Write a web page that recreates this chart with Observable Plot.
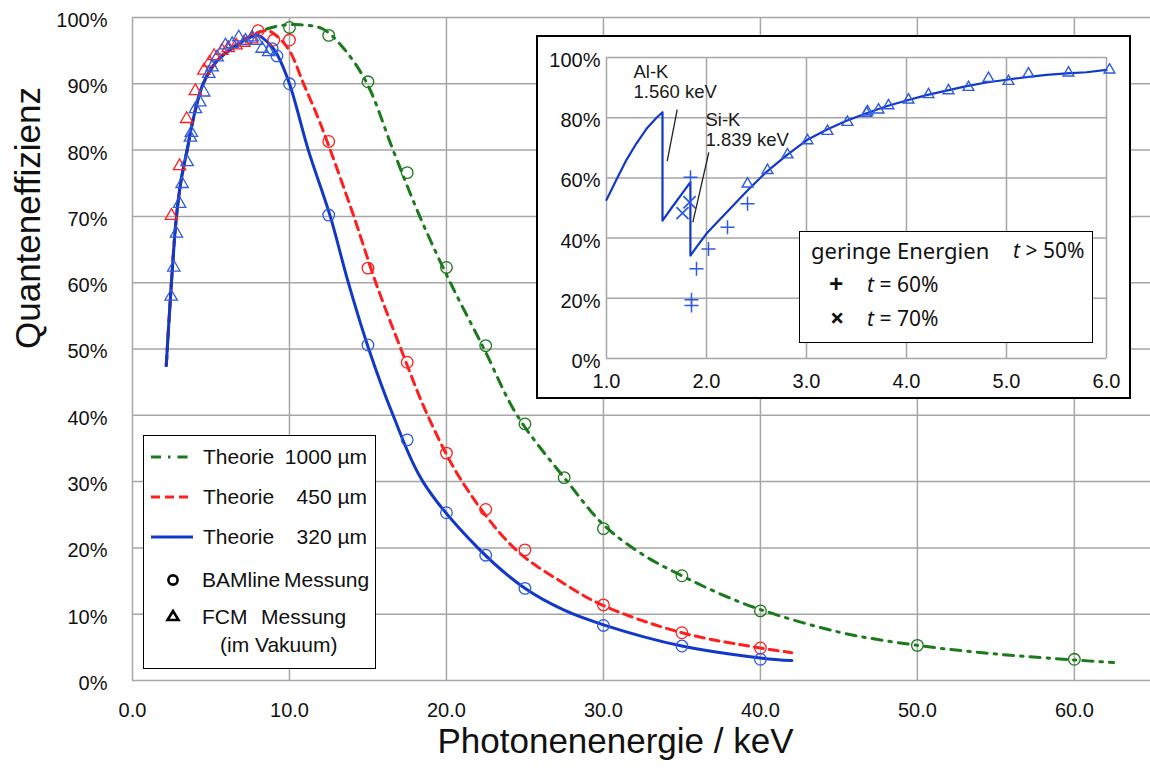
<!DOCTYPE html>
<html>
<head>
<meta charset="utf-8">
<script src="https://cdn.jsdelivr.net/npm/d3@7"></script>
<script src="https://cdn.jsdelivr.net/npm/@observablehq/plot@0.6"></script>
<style>
  html, body { margin: 0; padding: 0; background: #fff; }
  #root { position: relative; width: 1150px; height: 772px; overflow: hidden; font-family: "Liberation Sans", Arial, sans-serif; color: #111; }
  .abs { position: absolute; }
  .lg { position: absolute; font-size: 21px; line-height: 24px; white-space: pre; color: #111; }
  .lg2 { position: absolute; font-family: "Noto Sans", "Open Sans", sans-serif; font-size: 21px; line-height: 26px; white-space: pre; color: #111; }
</style>
</head>
<body>
<div id="root"></div>
<script>
// ---------------- DATA ----------------
// Main chart: photon energy (keV) vs quantum efficiency (%)
const xTicksMain = [0, 10, 20, 30, 40, 50, 60];
const yTicksMain = [0, 10, 20, 30, 40, 50, 60, 70, 80, 90, 100];

const theorie1000 = [[2.15,47.5],[2.48,60],[2.8,70],[3.1,75.5],[3.48,80],[3.9,85],[4.5,90],[5.4,93.5],[6.45,95.6],[7.5,97.2],[8.6,98.3],[9.5,98.8],[10.7,98.9],[12.1,98.3],[13.5,95.2],[14.95,90],[16.6,80],[18.3,70],[20.25,60],[22.4,50],[24.5,40],[27.7,30],[30,23.5],[32.5,19],[35,15.8],[37.5,13],[40,10.7],[45,7.3],[50,5.3],[55,4.0],[60,3.1],[62.5,2.7]];
const theorie450 = [[2.15,47.5],[2.48,60],[2.8,70],[3.1,75.5],[3.48,80],[3.9,85],[4.5,90],[5.4,93.5],[6.45,95.6],[7.5,97.2],[8.6,98.0],[9.2,97.2],[10.0,95.0],[10.9,90],[11.8,85],[12.6,80],[14.1,70],[15.5,60],[17.1,50],[18.8,40],[21.0,30],[24.3,20],[27.5,14.6],[30,11.3],[35,7.2],[40,4.9],[42,4.2]];
const theorie320 = [[2.15,47.5],[2.48,60],[2.8,70],[3.1,75.5],[3.48,80],[3.9,85],[4.5,90],[5.4,93.5],[6.45,95.5],[7.5,97.0],[8.0,97.3],[8.8,95.8],[9.2,94.5],[10,90],[11.2,80],[12.6,70],[13.75,60],[15.05,50],[16.6,40],[18.5,30],[22,20],[25,13.9],[27.5,10.6],[30,8.4],[35,5.2],[40,3.4],[42,3.0]];

const bamline1000 = [[10,98.5],[12.5,97.3],[15,90.3],[17.5,76.6],[20,62.3],[22.5,50.5],[25,38.7],[27.5,30.6],[30,22.9],[35,15.8],[40,10.5],[50,5.3],[60,3.2]];
const bamline450 = [[8.0,98.0],[9.0,96.6],[10,96.6],[12.5,81.3],[15,62.2],[17.5,48],[20,34.3],[22.5,25.8],[25,19.7],[30,11.4],[35,7.2],[40,4.9]];
const bamline320 = [[8.9,95.3],[9.2,94.2],[10,90],[12.5,70.2],[15,50.6],[17.5,36.3],[20,25.3],[22.5,18.9],[25,13.9],[30,8.3],[35,5.2],[40,3.2]];

const fcm450 = [[2.48,70.1],[3.0,77.6],[3.45,84.7],[4.0,88.9],[4.55,92.0],[4.9,93.2],[5.2,94.2],[5.7,95.0],[6.1,95.4],[6.6,95.8],[7.1,96.2],[7.6,96.7]];
const fcm320 = [[2.46,57.9],[2.63,62.3],[2.8,67.4],[3.0,71.9],[3.16,74.9],[3.48,78.2],[3.69,81.9],[3.75,82.6],[4.01,86.2],[4.29,87.2],[4.54,88.7],[4.86,91.5],[5.07,92.5],[5.39,94.0],[5.92,95.8],[6.35,96.0],[6.77,97.0],[7.2,96.5],[7.62,97.0],[7.9,96.5],[8.26,95.3],[8.68,94.8]];

// Inset: low energies
const xTicksInset = [1, 2, 3, 4, 5, 6];
const yTicksInset = [0, 20, 40, 60, 80, 100];
const insetTheorie = [[1.0,52.7],[1.1,59.5],[1.2,66],[1.3,71.5],[1.4,76.3],[1.5,80],[1.56,81.8],[1.56,45.8],[1.65,50],[1.75,54.5],[1.839,58.6],[1.839,34.2],[1.9,37],[2.0,41.5],[2.2,48.5],[2.4,55.5],[2.6,62],[2.8,67.5],[3.0,72.5],[3.2,76],[3.4,79],[3.6,81.5],[3.8,83.8],[4.0,85.7],[4.2,87.5],[4.4,89],[4.6,90.5],[4.8,91.7],[5.0,92.6],[5.2,93.5],[5.4,94.2],[5.6,94.7],[5.8,95.1],[6.0,95.9]];
const insetFCM = [[2.41,58],[2.61,62.5],[2.81,67.7],[3.01,72.4],[3.21,75.5],[3.41,78.5],[3.6,81.5],[3.61,82],[3.72,82.6],[3.82,84],[4.02,85.9],[4.22,87.7],[4.42,89],[4.62,90.1],[4.82,93.1],[5.02,92.1],[5.22,94.6],[5.62,94.9],[6.03,95.9]];
const insetT60 = [[1.84,60.2],[1.85,19.5],[1.85,17.6],[1.9,29.8],[2.02,36.4],[2.21,43.6],[2.41,51.4]];
const insetT70 = [[1.76,48.3],[1.83,51.9]];
const edgeLabels = ["Al-K", "1.560 keV", "Si-K", "1.839 keV"];

// ---------------- STYLES ----------------
const cGreen = "#1b7a1b", cRed = "#ff1f1f", cBlue = "#1238c8", cBlueM = "#2e5be0";
const gridColor = "#a6a6a6";
const font = "'Liberation Sans', Arial, sans-serif";
const root = document.getElementById("root");

// ---------------- MAIN CHART ----------------
const main = Plot.plot({
  width: 1150, height: 772,
  marginLeft: 132, marginRight: 0, marginTop: 17, marginBottom: 92,
  style: {fontFamily: font, fontSize: "20px", color: "#111", background: "#fff", overflow: "visible"},
  x: {domain: [0, 64.85], ticks: xTicksMain, tickFormat: d => d.toFixed(1), tickSize: 0, tickPadding: 22, label: null},
  y: {domain: [0, 100], ticks: yTicksMain, tickFormat: d => d + "%", tickSize: 0, tickPadding: 25, label: null},
  marks: [
    Plot.gridX(xTicksMain, {stroke: gridColor, strokeOpacity: 1, strokeWidth: 1.5}),
    Plot.gridY(yTicksMain, {stroke: gridColor, strokeOpacity: 1, strokeWidth: 1.5}),
    Plot.axisY(yTicksMain, {tickSize: 0, tickPadding: 25, tickFormat: d => d + "%", dy: 3, fontSize: 20}),
    Plot.axisX(xTicksMain, {tickSize: 0, tickPadding: 22, tickFormat: d => d.toFixed(1), fontSize: 20}),
    Plot.line(theorie1000, {x: d => d[0], y: d => d[1], stroke: cGreen, strokeWidth: 3, strokeDasharray: "10,7,2.5,7", curve: "catmull-rom"}),
    Plot.line(theorie450, {x: d => d[0], y: d => d[1], stroke: cRed, strokeWidth: 3, strokeDasharray: "9,6", curve: "catmull-rom"}),
    Plot.line(theorie320, {x: d => d[0], y: d => d[1], stroke: cBlue, strokeWidth: 3, curve: "catmull-rom"}),
    Plot.dot(bamline1000, {x: d => d[0], y: d => d[1], r: 5.8, stroke: cGreen, fill: "none", strokeWidth: 1.3}),
    Plot.dot(bamline450, {x: d => d[0], y: d => d[1], r: 5.8, stroke: cRed, fill: "none", strokeWidth: 1.3}),
    Plot.dot(bamline320, {x: d => d[0], y: d => d[1], r: 5.8, stroke: cBlueM, fill: "none", strokeWidth: 1.3}),
    Plot.dot(fcm450, {x: d => d[0], y: d => d[1], r: 4.6, symbol: "triangle", stroke: cRed, fill: "none", strokeWidth: 1.3}),
    Plot.dot(fcm320, {x: d => d[0], y: d => d[1], r: 4.6, symbol: "triangle", stroke: cBlueM, fill: "none", strokeWidth: 1.3}),
    Plot.text(["Photonenenergie / keV"], {frameAnchor: "bottom", dy: 72, dx: -26, fontSize: 35, fill: "#111"}),
    Plot.text(["Quanteneffizienz"], {frameAnchor: "left", dx: -104, rotate: -90, fontSize: 35, fill: "#111"})
  ]
});
main.style.position = "absolute";
main.style.left = "0px";
main.style.top = "0px";
root.appendChild(main);

// ---------------- INSET ----------------
const inset = Plot.plot({
  width: 591, height: 360,
  marginLeft: 68, marginRight: 23, marginTop: 20, marginBottom: 39,
  style: {fontFamily: font, fontSize: "20px", color: "#111", background: "#fff"},
  x: {domain: [1, 6], ticks: xTicksInset, tickFormat: d => d.toFixed(1), tickSize: 0, tickPadding: 15, label: null},
  y: {domain: [0, 100], ticks: yTicksInset, tickFormat: d => d + "%", tickSize: 0, tickPadding: 6, label: null},
  marks: [
    Plot.gridX(xTicksInset, {stroke: gridColor, strokeOpacity: 1, strokeWidth: 1.5}),
    Plot.gridY(yTicksInset, {stroke: gridColor, strokeOpacity: 1, strokeWidth: 1.5}),
    Plot.axisY(yTicksInset, {tickSize: 0, tickPadding: 6, tickFormat: d => d + "%", dy: 3, fontSize: 20}),
    Plot.axisX(xTicksInset, {tickSize: 0, tickPadding: 15, tickFormat: d => d.toFixed(1), fontSize: 20}),
    Plot.line(insetTheorie, {x: d => d[0], y: d => d[1], stroke: cBlue, strokeWidth: 2.2}),
    Plot.dot(insetFCM, {x: d => d[0], y: d => d[1], r: 4, symbol: "triangle", stroke: cBlueM, fill: "none", strokeWidth: 1.4}),
    Plot.dot(insetT60, {x: d => d[0], y: d => d[1], r: 4.6, symbol: "plus", stroke: cBlueM, strokeWidth: 1.5}),
    Plot.dot(insetT70, {x: d => d[0], y: d => d[1], r: 5.6, symbol: "times", stroke: cBlueM, strokeWidth: 1.8}),
    Plot.link([0], {x1: 1.707, y1: 82.7, x2: 1.607, y2: 65.6, stroke: "#222", strokeWidth: 1.3}),
    Plot.link([0], {x1: 2.023, y1: 68.5, x2: 1.863, y2: 45.2, stroke: "#222", strokeWidth: 1.3}),
    Plot.text([edgeLabels[0]], {x: 1.27, y: 95.0, textAnchor: "start", fontSize: 18.5, fill: "#1a1a1a"}),
    Plot.text([edgeLabels[1]], {x: 1.27, y: 88.5, textAnchor: "start", fontSize: 18.5, fill: "#1a1a1a"}),
    Plot.text([edgeLabels[2]], {x: 1.99, y: 79.1, textAnchor: "start", fontSize: 18.5, fill: "#1a1a1a"}),
    Plot.text([edgeLabels[3]], {x: 1.99, y: 72.4, textAnchor: "start", fontSize: 18.5, fill: "#1a1a1a"})
  ]
});
inset.style.position = "absolute";
inset.style.left = "538px";
inset.style.top = "37px";
inset.style.outline = "2.5px solid #000";
root.appendChild(inset);

// ---------------- LEGENDS ----------------
function el(tag, cls, css, html) {
  const e = document.createElement(tag);
  if (cls) e.className = cls;
  Object.assign(e.style, css);
  if (html != null) e.innerHTML = html;
  root.appendChild(e);
  return e;
}
// main legend box
el("div", "abs", {left: "143px", top: "435px", width: "233px", height: "234px", border: "1.5px solid #000", background: "#fff", boxSizing: "border-box"});
const svgNS = "http://www.w3.org/2000/svg";
function sample(y, color, dash) {
  const s = document.createElementNS(svgNS, "svg");
  s.setAttribute("width", "50"); s.setAttribute("height", "10");
  s.style.position = "absolute"; s.style.left = "149px"; s.style.top = (y - 5) + "px";
  const l = document.createElementNS(svgNS, "line");
  l.setAttribute("x1", "2"); l.setAttribute("x2", "44"); l.setAttribute("y1", "5"); l.setAttribute("y2", "5");
  l.setAttribute("stroke", color); l.setAttribute("stroke-width", "3");
  if (dash) l.setAttribute("stroke-dasharray", dash);
  s.appendChild(l);
  root.appendChild(s);
}
sample(457, cGreen, "10,7,2.5,7");
sample(497, cRed, "9,5");
sample(537, cBlue, null);
el("div", "lg", {left: "203px", top: "445px"}, "Theorie");
el("div", "lg", {left: "203px", top: "485px"}, "Theorie");
el("div", "lg", {left: "203px", top: "525px"}, "Theorie");
el("div", "lg", {left: "250px", top: "445px", width: "117px", textAlign: "right"}, "1000 µm");
el("div", "lg", {left: "250px", top: "485px", width: "117px", textAlign: "right"}, "450 µm");
el("div", "lg", {left: "250px", top: "525px", width: "117px", textAlign: "right"}, "320 µm");
// symbols
const sym = document.createElementNS(svgNS, "svg");
sym.setAttribute("width", "30"); sym.setAttribute("height", "60");
sym.style.position = "absolute"; sym.style.left = "158px"; sym.style.top = "566px";
sym.innerHTML = '<circle cx="15" cy="14" r="4.6" fill="none" stroke="#000" stroke-width="2.6"/>' +
  '<path d="M15,45 L20.5,54 L9.5,54 Z" fill="none" stroke="#000" stroke-width="2.6" stroke-linejoin="miter"/>';
root.appendChild(sym);
el("div", "lg", {left: "202px", top: "568px"}, "BAMline");
el("div", "lg", {left: "284px", top: "568px"}, "Messung");
el("div", "lg", {left: "202px", top: "605px"}, "FCM");
el("div", "lg", {left: "261px", top: "605px"}, "Messung");
el("div", "lg", {left: "220px", top: "633px"}, "(im Vakuum)");

// inset legend box
el("div", "abs", {left: "799px", top: "231px", width: "294px", height: "112px", border: "1.5px solid #000", background: "#fff", boxSizing: "border-box"});
el("div", "lg2", {left: "811px", top: "236px", fontSize: "22px", lineHeight: "28px"}, "geringe Energien");
el("div", "lg2", {left: "1013px", top: "236px", fontSize: "21px", lineHeight: "28px"}, "<i>t</i> &gt; 50%");
el("div", "lg2", {left: "829px", top: "268px", fontSize: "25px", lineHeight: "30px", fontWeight: "bold"}, "+");
el("div", "lg2", {left: "830px", top: "302px", fontSize: "25px", lineHeight: "30px", fontWeight: "bold"}, "×");
el("div", "lg2", {left: "867px", top: "271px", fontSize: "21px", lineHeight: "26px"}, "<i>t</i> = 60%");
el("div", "lg2", {left: "867px", top: "305px", fontSize: "21px", lineHeight: "26px"}, "<i>t</i> = 70%");
</script>
</body>
</html>
